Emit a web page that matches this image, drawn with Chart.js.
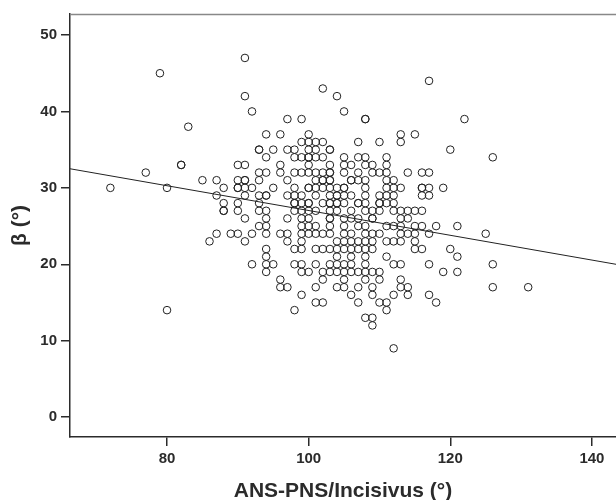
<!DOCTYPE html>
<html>
<head>
<meta charset="utf-8">
<script src="https://cdn.jsdelivr.net/npm/chart.js@4.4.0/dist/chart.umd.min.js"></script>
<style>
    html, body { margin: 0; padding: 0; background: #fff; }
    #wrap { width: 616px; height: 500px; }
</style>
</head>
<body>
<div id="wrap"><canvas id="betaChart"></canvas></div>
<script>
// beta (°) levels, and the ANS-PNS/Incisivus (°) values seen at each level
const betaLevels = [47, 45, 44, 43, 42, 40, 39, 38, 37, 36, 35, 34, 33, 32, 31, 30, 29, 28, 27, 26, 25, 24, 23, 22, 21, 20, 19, 18, 17, 16, 15, 14, 13, 12, 9];
const incisivusAtLevel = [
    [91],
    [79],
    [117],
    [102],
    [91, 104],
    [92, 105],
    [97, 99, 108, 108, 122],
    [83],
    [94, 96, 100, 113, 115],
    [99, 100, 101, 102, 107, 110, 113],
    [93, 93, 95, 97, 98, 100, 101, 103, 103, 120],
    [94, 98, 99, 100, 100, 101, 102, 105, 107, 108, 111, 126],
    [82, 82, 90, 91, 96, 100, 103, 105, 106, 108, 109, 111],
    [77, 93, 94, 96, 98, 99, 100, 101, 102, 103, 103, 105, 107, 109, 110, 111, 114, 116, 117],
    [85, 87, 90, 91, 91, 93, 97, 101, 102, 102, 103, 103, 106, 106, 107, 108, 111, 112],
    [72, 80, 88, 90, 90, 91, 92, 95, 98, 100, 100, 101, 102, 103, 104, 105, 105, 108, 111, 112, 113, 116, 116, 117, 119],
    [87, 91, 93, 94, 94, 97, 98, 99, 101, 103, 104, 104, 105, 106, 108, 110, 111, 112, 116, 117],
    [88, 90, 93, 98, 98, 99, 100, 100, 102, 103, 103, 104, 104, 105, 107, 107, 108, 110, 110, 111, 112],
    [88, 88, 90, 93, 94, 98, 99, 100, 101, 103, 104, 106, 108, 109, 110, 112, 113, 114, 115, 116],
    [91, 94, 97, 99, 100, 103, 103, 105, 106, 107, 109, 109, 113, 114],
    [93, 94, 99, 100, 101, 103, 105, 107, 108, 111, 112, 113, 115, 116, 118, 121],
    [87, 89, 90, 92, 94, 96, 97, 99, 100, 101, 102, 103, 105, 106, 108, 109, 110, 113, 114, 115, 117, 125],
    [86, 91, 97, 99, 104, 105, 106, 107, 108, 109, 111, 112, 113, 115],
    [94, 98, 99, 101, 102, 103, 104, 105, 106, 107, 108, 109, 115, 116, 120],
    [94, 104, 106, 108, 111, 121],
    [92, 94, 95, 98, 99, 101, 103, 104, 105, 106, 108, 112, 113, 117, 126],
    [94, 99, 100, 102, 103, 104, 105, 106, 107, 108, 109, 110, 119, 121],
    [96, 102, 105, 108, 110, 113],
    [96, 97, 101, 104, 105, 107, 109, 113, 114, 126, 131],
    [99, 106, 109, 112, 114, 117],
    [101, 102, 107, 110, 111, 118],
    [80, 98, 111],
    [108, 109],
    [109],
    [112]
];

// fit line end points, read at the plot edges
const fitX = [66.3, 143.4];
const fitY = [32.5, 20.0];

// axis ranges and ticks
const xRange = [66.3, 143.4];
const yRange = [-2.6, 52.75];
const xTicks = [80, 100, 120, 140];
const yTicks = [0, 10, 20, 30, 40, 50];

let points = [];
betaLevels.forEach(function(b, i) {
    incisivusAtLevel[i].forEach(function(a) {
        points.push({x: a, y: b});
    });
});

const fitLine = fitX.map(function(v, i) { return {x: v, y: fitY[i]}; });

const axisColor = '#2b2b2b';
const fontFam = '"Liberation Sans", Arial, sans-serif';

// gray top frame line like the original
const topFrame = {
    id: 'topFrame',
    afterDraw: function(chart) {
        const a = chart.chartArea;
        const ctx = chart.ctx;
        ctx.save();
        ctx.strokeStyle = '#888';
        ctx.lineWidth = 1.5;
        ctx.beginPath();
        ctx.moveTo(a.left, a.top + 0.5);
        ctx.lineTo(a.right, a.top + 0.5);
        ctx.stroke();
        ctx.restore();
    }
};

let ctx = document.getElementById('betaChart').getContext('2d');
let betaChart = new Chart(ctx, {
    type: 'scatter',
    data: {
        datasets: [{
            data: points,
            pointStyle: 'circle',
            pointRadius: 3.8,
            pointBorderWidth: 1,
            pointBorderColor: '#222',
            pointBackgroundColor: 'rgba(0,0,0,0)',
            order: 2
        }, {
            type: 'line',
            data: fitLine,
            borderColor: '#222',
            borderWidth: 1,
            pointRadius: 0,
            fill: false,
            order: 1
        }]
    },
    options: {
        responsive: true,
        maintainAspectRatio: false,
        animation: { duration: 0 },
        layout: { autoPadding: false, padding: { top: 14, right: 0, left: 0, bottom: 0 } },
        plugins: {
            legend: { display: false },
            tooltip: { enabled: false }
        },
        scales: {
            x: {
                type: 'linear',
                min: xRange[0],
                max: xRange[1],
                afterFit: function(scale) { scale.height = 63; },
                afterBuildTicks: function(scale) {
                    scale.ticks = xTicks.map(function(v) { return {value: v}; });
                },
                ticks: {
                    color: axisColor,
                    padding: 4,
                    font: { size: 15, weight: 'bold', family: fontFam }
                },
                grid: {
                    drawOnChartArea: false,
                    drawTicks: true,
                    tickLength: 9,
                    color: axisColor,
                    lineWidth: 1.5
                },
                border: { color: axisColor, width: 1.5 },
                title: {
                    display: true,
                    text: 'ANS-PNS/Incisivus (°)',
                    color: axisColor,
                    padding: { top: 0, bottom: -1.5 },
                    font: { size: 21, weight: 'bold', family: fontFam, lineHeight: 1 }
                }
            },
            y: {
                type: 'linear',
                min: yRange[0],
                max: yRange[1],
                afterFit: function(scale) { scale.width = 70; },
                afterBuildTicks: function(scale) {
                    scale.ticks = yTicks.map(function(v) { return {value: v}; });
                },
                ticks: {
                    color: axisColor,
                    padding: 4,
                    font: { size: 15, weight: 'bold', family: fontFam }
                },
                grid: {
                    drawOnChartArea: false,
                    drawTicks: true,
                    tickLength: 9,
                    color: axisColor,
                    lineWidth: 1.5
                },
                border: { color: axisColor, width: 1.5 },
                title: {
                    display: true,
                    text: 'β (°)',
                    color: axisColor,
                    padding: { top: 10, bottom: 0 },
                    font: { size: 21, weight: 'bold', family: fontFam, lineHeight: 1 }
                }
            }
        }
    },
    plugins: [topFrame]
});
</script>
</body>
</html>
